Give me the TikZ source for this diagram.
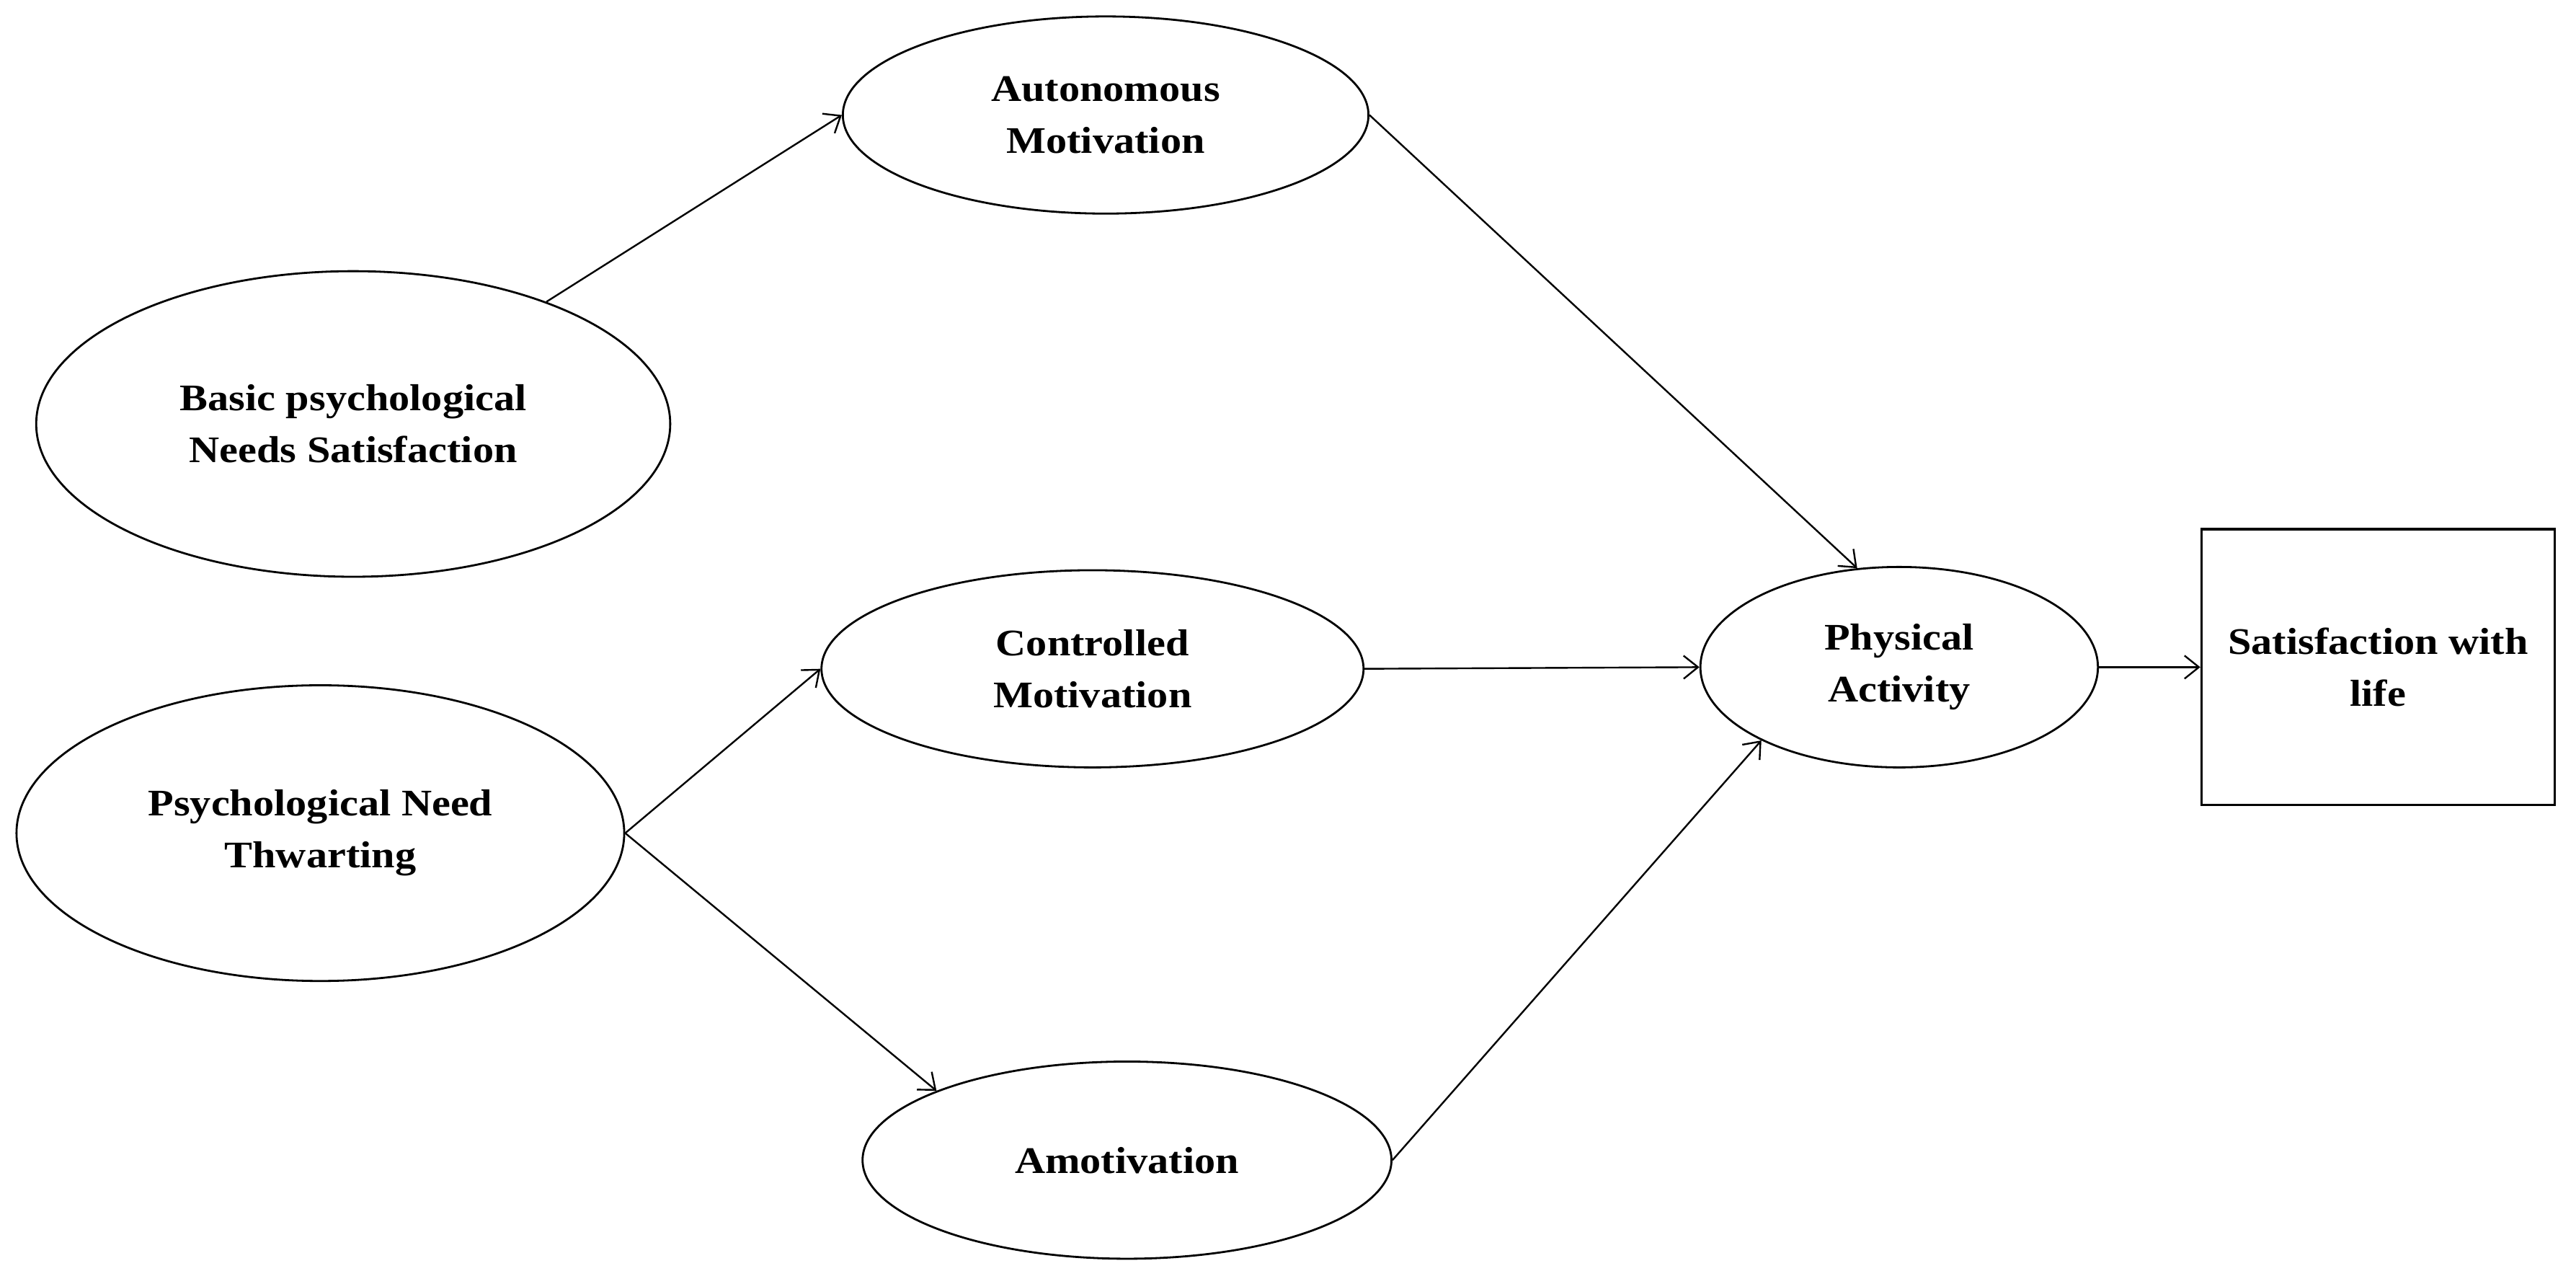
\documentclass[tikz,border=0pt]{standalone}
\usepackage{fontspec}
\setmainfont{Liberation Serif}[FakeStretch=1.12]
\usetikzlibrary{shapes.geometric,arrows.meta}
\begin{document}
\begin{tikzpicture}[x=0.02cm,y=0.02cm,
  txt/.style={align=center,font=\fontsize{13}{18}\selectfont\bfseries},
  lat/.style={ellipse,draw,line width=0.7pt,inner sep=0pt,txt},
  obs/.style={rectangle,draw,line width=0.8pt,inner sep=0pt,txt},
  conn/.style={-{Straight Barb[length=5pt,width=8pt]},line width=0.6pt}]
\useasboundingbox (0,0) rectangle (1568,781);
\node[lat,minimum width=6.4cm,minimum height=2.4cm] (am) at (673,711) {Autonomous\\Motivation};
\node[lat,minimum width=7.72cm,minimum height=3.72cm] (bpns) at (215,523) {Basic psychological\\Needs Satisfaction};
\node[lat,minimum width=6.6cm,minimum height=2.4cm] (cm) at (665,374) {Controlled\\Motivation};
\node[lat,minimum width=7.4cm,minimum height=3.6cm] (pnt) at (195,274) {Psychological Need\\Thwarting};
\node[lat,minimum width=6.44cm,minimum height=2.4cm] (amo) at (686,75) {Amotivation};
\node[lat,minimum width=4.84cm,minimum height=2.44cm] (pa) at (1156,375) {Physical\\Activity};
\node[obs,minimum width=4.3cm,minimum height=3.36cm] (swl) at (1447.5,375) {Satisfaction with\\life};
\draw[conn] (bpns) -- (am.west);
\draw[conn] (am.east) -- (pa.113);
\draw[conn] (cm.east) -- (pa.west);
\draw[conn] (pnt.east) -- (cm.west);
\draw[conn] (pnt.east) -- (amo.160);
\draw[conn] (amo.east) -- (pa.208);
\draw[conn] (pa.east) -- (swl.west);
\end{tikzpicture}
\end{document}
